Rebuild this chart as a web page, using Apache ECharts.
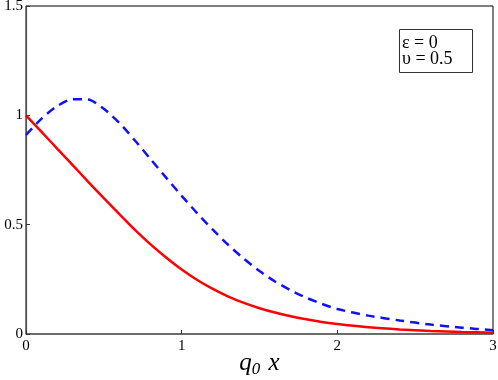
<!DOCTYPE html>
<html>
<head>
<meta charset="utf-8">
<script src="https://cdn.jsdelivr.net/npm/echarts@6/dist/echarts.min.js"></script>
<style>
  html, body { margin: 0; padding: 0; background: #fff; }
  #chart { width: 498px; height: 380px; }
</style>
</head>
<body>
<div id="chart"></div>
<script>
// values
var xs = [0, 0.1, 0.2, 0.3, 0.4, 0.5, 0.6, 0.7, 0.8, 0.9, 1.0, 1.1, 1.2, 1.3, 1.4, 1.5,
  1.6, 1.7, 1.8, 1.9, 2.0, 2.2, 2.4, 2.6, 2.8, 3.0]
var solidRed = [1.0, 0.924, 0.848, 0.772, 0.696, 0.621, 0.548, 0.476, 0.41, 0.35, 0.295, 0.247,
  0.206, 0.171, 0.142, 0.118, 0.098, 0.081, 0.067, 0.055, 0.046, 0.031, 0.021, 0.014, 0.009, 0.006]
var dashedBlue = [0.91, 0.985, 1.042, 1.074, 1.072, 1.03, 0.965, 0.885, 0.8, 0.715, 0.632, 0.552,
  0.477, 0.407, 0.344, 0.288, 0.24, 0.2, 0.166, 0.138, 0.114, 0.084, 0.062, 0.043, 0.029, 0.017]
var legendLines = ['ε = 0', 'υ = 0.5']

function pairs(ys) {
  return xs.map(function (x, i) { return [x, ys[i]] })
}

var chart = echarts.init(document.getElementById('chart'))
var serif = 'Liberation Serif'

chart.setOption({
  animation: false,
  graphic: [
    {
      type: 'rect',
      left: 399,
      top: 29,
      shape: { width: 73, height: 43 },
      style: { fill: '#fff', stroke: '#333', lineWidth: 1 },
      z: 10
    },
    {
      type: 'text',
      left: 402,
      top: 34,
      style: {
        text: legendLines.join('\n'),
        font: '18px "Liberation Serif"',
        lineHeight: 16,
        fill: '#000'
      },
      z: 11
    }
  ],
  grid: {
    left: 26,
    right: 5,
    top: 6,
    bottom: 46,
    outerBoundsMode: 'none',
    show: true,
    borderColor: '#000',
    borderWidth: 1
  },
  xAxis: {
    type: 'value',
    min: 0,
    max: 3,
    interval: 1,
    name: '{q|q}{s|0}{q| x}',
    nameLocation: 'middle',
    nameMoveOverlap: false,
    nameGap: 15,
    nameTextStyle: {
      verticalAlign: 'top',
      rich: {
        q: { fontFamily: serif, fontStyle: 'italic', fontSize: 25, color: '#000' },
        s: { fontFamily: serif, fontStyle: 'italic', fontSize: 17, color: '#000', verticalAlign: 'bottom', padding: [12, 2, 0, 0] }
      }
    },
    axisLine: { lineStyle: { color: '#666', width: 1.5 } },
    axisTick: { inside: true, length: 4, lineStyle: { color: '#333' } },
    axisLabel: { fontFamily: serif, fontSize: 15, color: '#000', margin: 5 },
    splitLine: { show: false }
  },
  yAxis: {
    type: 'value',
    min: 0,
    max: 1.5,
    interval: 0.5,
    axisLine: { show: true, lineStyle: { color: '#555', width: 1.2 } },
    axisTick: { show: true, inside: true, length: 4, lineStyle: { color: '#333' } },
    axisLabel: { fontFamily: serif, fontSize: 15, color: '#000', margin: 3 },
    splitLine: { show: false }
  },
  series: [
    {
      type: 'line',
      data: pairs(dashedBlue),
      smooth: 0.25,
      showSymbol: false,
      lineStyle: { color: '#1010ff', width: 2.5, type: [9, 6] }
    },
    {
      type: 'line',
      data: pairs(solidRed),
      smooth: 0.25,
      showSymbol: false,
      lineStyle: { color: '#ff0000', width: 2.5 }
    }
  ]
})
</script>
</body>
</html>
